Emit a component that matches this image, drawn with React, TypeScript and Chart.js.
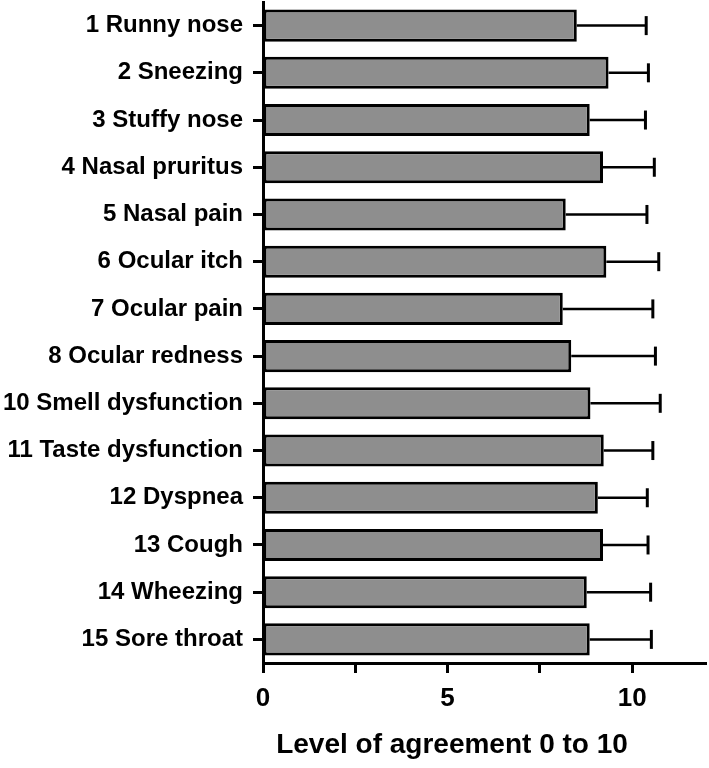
import React, { useEffect, useRef } from "react";
import { Chart, registerables } from "chart.js";

Chart.register(...registerables);

const categories = [
  "1 Runny nose",
  "2 Sneezing",
  "3 Stuffy nose",
  "4 Nasal pruritus",
  "5 Nasal pain",
  "6 Ocular itch",
  "7 Ocular pain",
  "8 Ocular redness",
  "10 Smell dysfunction",
  "11 Taste dysfunction",
  "12 Dyspnea",
  "13 Cough",
  "14 Wheezing",
  "15 Sore throat",
];

const means = [8.5, 9.36, 8.85, 9.21, 8.2, 9.3, 8.12, 8.35, 8.87, 9.23, 9.07, 9.21, 8.77, 8.85];
const sds = [1.88, 1.08, 1.51, 1.39, 2.2, 1.42, 2.44, 2.28, 1.89, 1.33, 1.34, 1.22, 1.73, 1.67];

const xTicks = [0, 2.5, 5, 7.5, 10];
const xTickLabels = ["0", "", "5", "", "10"];
const xTitle = "Level of agreement 0 to 10";

const FONT = "'Liberation Sans', Arial, Helvetica, sans-serif";

const errorBarPlugin = {
  id: "errorBars",
  afterDatasetsDraw(chart: any) {
    const meta = chart.getDatasetMeta(0);
    const xs = chart.scales.x;
    const ctx = chart.ctx;
    ctx.save();
    ctx.strokeStyle = "#000";
    meta.data.forEach((bar: any, i: number) => {
      const x0 = xs.getPixelForValue(means[i]);
      const x1 = xs.getPixelForValue(means[i] + sds[i]);
      const y = bar.y;
      ctx.lineWidth = 2.5;
      ctx.beginPath();
      ctx.moveTo(x0, y);
      ctx.lineTo(x1, y);
      ctx.stroke();
      ctx.lineWidth = 3;
      ctx.beginPath();
      ctx.moveTo(x1, y - 9.5);
      ctx.lineTo(x1, y + 9.5);
      ctx.stroke();
    });
    ctx.restore();
  },
};

const titlePlugin = {
  id: "xTitleCustom",
  afterDraw(chart: any) {
    const ctx = chart.ctx;
    ctx.save();
    ctx.fillStyle = "#000";
    ctx.font = `bold 28px ${FONT}`;
    ctx.textAlign = "center";
    ctx.textBaseline = "middle";
    ctx.fillText(xTitle, 452, 745);
    ctx.restore();
  },
};

export default function App() {
  const ref = useRef<HTMLCanvasElement | null>(null);

  useEffect(() => {
    document.body.style.margin = "0";
    if (!ref.current) return;
    const chart = new Chart(ref.current, {
      type: "bar",
      data: {
        labels: categories,
        datasets: [
          {
            data: means,
            backgroundColor: "#8e8e8e",
            borderColor: "#000",
            borderWidth: 3,
            borderSkipped: false,
            categoryPercentage: 1,
            barPercentage: 0.68,
          },
        ],
      },
      options: {
        indexAxis: "y",
        animation: false,
        responsive: false,
        maintainAspectRatio: false,
        layout: { autoPadding: false, padding: { top: 2, right: 3, left: 0, bottom: 0 } },
        plugins: {
          legend: { display: false },
          tooltip: { enabled: false },
        },
        scales: {
          x: {
            type: "linear",
            min: 0,
            max: 12,
            afterBuildTicks(scale: any) {
              scale.ticks = xTicks.map((v) => ({ value: v }));
            },
            afterFit(scale: any) {
              scale.height = 105;
              scale.paddingLeft = 0;
              scale.paddingRight = 0;
            },
            grid: {
              display: true,
              drawOnChartArea: false,
              drawTicks: true,
              tickLength: 10,
              tickWidth: 3,
              color: "#000",
            },
            border: { display: true, width: 3, color: "#000" },
            ticks: {
              autoSkip: false,
              maxRotation: 0,
              padding: 10,
              color: "#000",
              font: { family: FONT, size: 26, weight: "bold" },
              callback(value: any, index: number) {
                return xTickLabels[index];
              },
            },
          },
          y: {
            type: "category",
            afterFit(scale: any) {
              scale.width = 263;
              scale.paddingTop = 0;
              scale.paddingBottom = 0;
            },
            grid: {
              display: true,
              drawOnChartArea: false,
              drawTicks: true,
              tickLength: 10,
              tickWidth: 3,
              color: "#000",
              offset: false,
            },
            border: { display: true, width: 3, color: "#000" },
            ticks: {
              autoSkip: false,
              padding: 10,
              color: "#000",
              font: { family: FONT, size: 24, weight: "bold" },
            },
          },
        },
      },
      plugins: [errorBarPlugin, titlePlugin],
    } as any);
    return () => chart.destroy();
  }, []);

  return (
    <div style={{ width: 709, height: 768 }}>
      <canvas ref={ref} width={709} height={768} style={{ display: "block", width: 709, height: 768 }} />
    </div>
  );
}
